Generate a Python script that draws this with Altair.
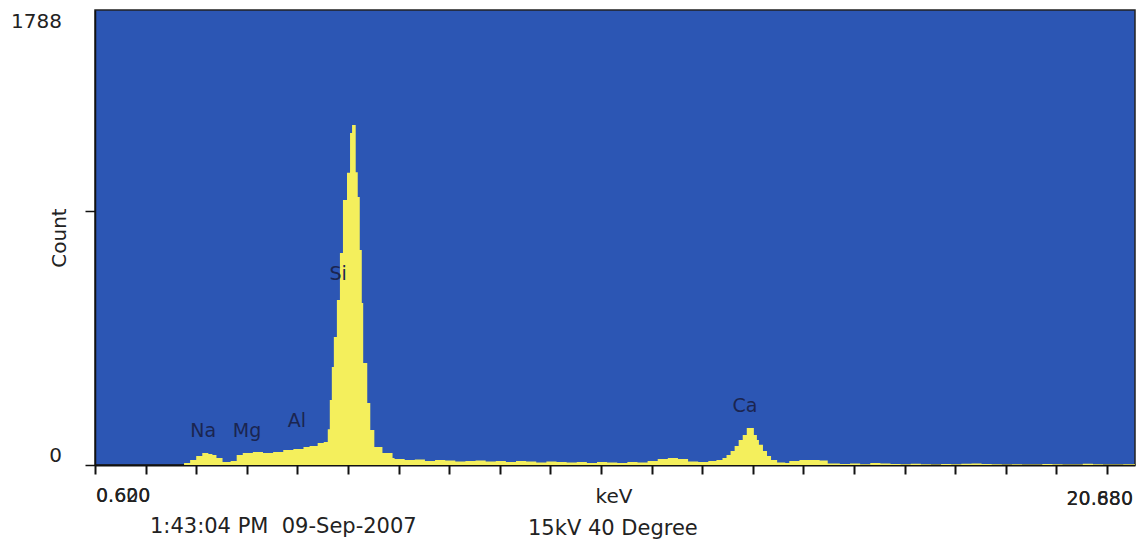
import altair as alt
import pandas as pd

# ---- spectrum (energy in keV, counts) ----
energy = [0.62, 1.05, 1.06, 1.09, 1.12, 1.15, 1.18, 1.20, 1.22, 1.25, 1.29, 1.32, 1.35,
          1.40, 1.45, 1.50, 1.55, 1.60, 1.65, 1.68, 1.72, 1.75, 1.77, 1.78, 1.79, 1.80,
          1.815, 1.83, 1.845, 1.865, 1.88, 1.89, 1.908, 1.918, 1.928, 1.938, 1.945,
          1.965, 1.98, 2.00, 2.04, 2.09,
          2.10, 2.15, 2.20, 2.25, 2.30, 2.35, 2.40, 2.45, 2.50, 2.55, 2.60, 2.65, 2.70,
          2.75, 2.80, 2.85, 2.90, 2.95, 3.00, 3.05, 3.10, 3.15, 3.20, 3.25, 3.30, 3.35,
          3.40, 3.45, 3.50, 3.55, 3.60, 3.65,
          3.69, 3.72, 3.74, 3.76, 3.78, 3.80, 3.82, 3.84, 3.875, 3.89, 3.90, 3.92, 3.94,
          3.96, 3.99, 4.03, 4.05, 4.10, 4.15, 4.20, 4.24,
          4.30, 4.35, 4.40, 4.45, 4.50, 4.55, 4.60, 4.65, 4.70, 4.75, 4.80, 4.85, 4.90,
          4.95, 5.00, 5.05, 5.10, 5.15, 5.20, 5.25, 5.30, 5.35, 5.40, 5.45, 5.50, 5.55,
          5.60, 5.65, 5.70, 5.758]
counts = [0, 0, 8, 20, 35, 47, 43, 39, 28, 12, 16, 39, 47,
          51, 47, 51, 59, 63, 71, 75, 86, 90, 140, 255, 385, 503,
          648, 833, 1041, 1148, 1305, 1336, 1150, 1053, 845, 637, 401,
          244, 138, 71, 47, 28,
          24, 20, 22, 16, 20, 18, 14, 16, 18, 14, 16, 12, 16,
          14, 10, 14, 12, 10, 12, 8, 12, 10, 8, 12, 10, 16,
          24, 28, 24, 14, 12, 16,
          20, 28, 39, 55, 75, 98, 118, 145, 118, 98, 80, 55, 35,
          20, 10, 8, 16, 20, 20, 18, 6,
          4, 6, 3, 8, 6, 4, 3, 5, 3, 2, 4, 3, 5,
          6, 4, 3, 2, 3, 2, 2, 4, 3, 2, 2, 5, 3,
          2, 2, 3, 2]

# ---- peak labels ----
elements = ["Na", "Mg", "Al", "Si", "Ca"]
elem_energy = [1.154, 1.371, 1.618, 1.821, 3.831]
elem_count = [110, 110, 149, 727, 208]

x_min, x_max = 0.62, 5.758
y_max = 1788
x_ticks = [round(0.62 + 0.25 * i, 2) for i in range(21)]
y_ticks = [0, 1000]

left_labels = ["0.600", "0.620"]
right_labels = ["20.680", "20.880"]
x_title = "keV"
y_title = "Count"
y_top_label = "1788"
y_zero_label = "0"
footer_left = "1:43:04 PM\u00a0\u00a009-Sep-2007"
footer_right = "15kV 40 Degree"

BLUE = "#2c56b4"
YELLOW = "#f4ef5c"
FONT = "DejaVu Sans"

df = pd.DataFrame({"energy": energy, "count": counts})
lab = pd.DataFrame({"el": elements, "energy": elem_energy, "count": elem_count})

xs = alt.Scale(domain=[x_min, x_max], nice=False, zero=False)
ys = alt.Scale(domain=[0, y_max], nice=False)

area = alt.Chart(df).mark_area(color=YELLOW, interpolate="step-after", opacity=1).encode(
    x=alt.X("energy:Q", scale=xs,
            axis=alt.Axis(values=x_ticks, labels=False, title=None, grid=False,
                          tickSize=9, tickColor="#111", tickWidth=2,
                          domainColor="#111", domainWidth=2)),
    y=alt.Y("count:Q", scale=ys,
            axis=alt.Axis(values=y_ticks, labels=False, title=None, grid=False,
                          tickSize=10, tickColor="#111", tickWidth=1.5,
                          domainColor="#111", domainWidth=1.5)),
)

peaks = alt.Chart(lab).mark_text(font=FONT, fontSize=19, color="#1b2550",
                                 align="center", baseline="alphabetic").encode(
    x=alt.X("energy:Q", scale=xs),
    y=alt.Y("count:Q", scale=ys),
    text="el:N",
)


def label(txt, x, y, size=20, align="left", angle=0):
    kw = dict(font=FONT, fontSize=size, color="#222", align=align,
              baseline="alphabetic")
    if angle:
        kw["angle"] = angle
        kw["baseline"] = "middle"
    one = pd.DataFrame({"t": [txt]})
    return alt.Chart(one).mark_text(**kw).encode(
        x=alt.value(x), y=alt.value(y), text="t:N")


texts = [
    label(left_labels[0], 1, 492, 19),
    label(left_labels[1], 1, 492, 19),
    label(right_labels[0], 1038, 495, 19, align="right"),
    label(right_labels[1], 1038, 495, 19, align="right"),
    label(x_title, 519, 493, 20, align="center"),
    label(footer_left, 55, 523, 21),
    label(footer_right, 433, 525, 21),
    label(y_top_label, -33, 18, 20, align="right"),
    label(y_zero_label, -33, 452, 20, align="right"),
    label(y_title, -35, 228, 20, align="center", angle=270),
]

chart = alt.layer(area, peaks, *texts).properties(
    width=1040, height=455,
    autosize=alt.AutoSizeParams(type="none"),
    padding={"left": 95, "top": 10, "right": 12, "bottom": 79},
    background="white",
).configure_view(fill=BLUE, stroke="#222", strokeWidth=1.5)

chart.save("out.html", embed_options={"renderer": "svg", "actions": False})
